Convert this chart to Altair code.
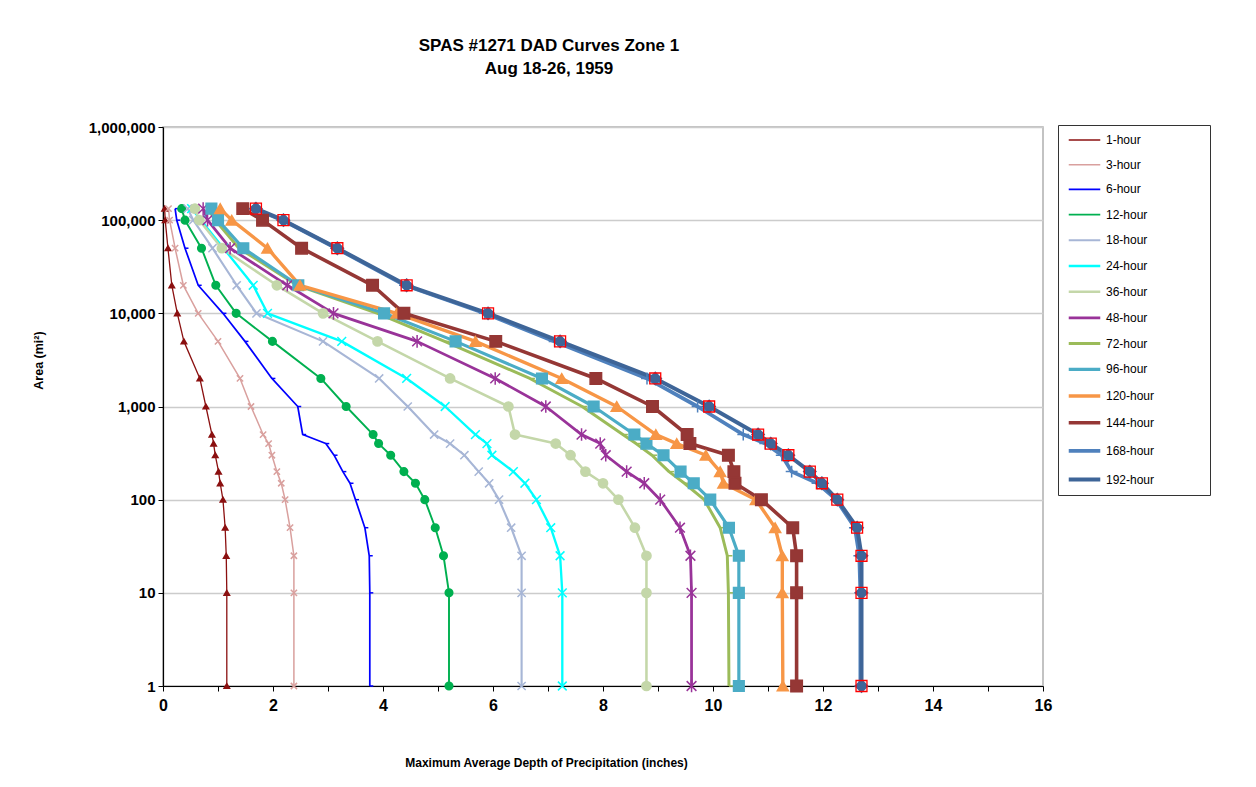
import altair as alt
import pandas as pd

# Area sizes (sq. mi.) shared by all curves
areas = [1, 10, 25, 50, 100, 150, 200, 300, 400, 500, 1000, 2000, 5000,
         10000, 20000, 50000, 100000, 133000]

# Maximum average depth (inches) per duration, one value per area above
d_1h = [1.16, 1.16, 1.15, 1.13, 1.09, 1.04, 1.01, 0.95, 0.92, 0.89, 0.78, 0.67, 0.38, 0.26, 0.16, 0.09, 0.04, 0.03]
d_3h = [2.38, 2.38, 2.38, 2.31, 2.22, 2.15, 2.07, 1.98, 1.92, 1.82, 1.60, 1.40, 1.00, 0.64, 0.37, 0.22, 0.12, 0.10]
d_6h = [3.76, 3.76, 3.75, 3.67, 3.50, 3.40, 3.27, 3.11, 2.96, 2.54, 2.45, 1.98, 1.49, 1.09, 0.64, 0.40, 0.25, 0.22]
d_12h = [5.20, 5.20, 5.10, 4.95, 4.76, 4.59, 4.38, 4.14, 3.92, 3.82, 3.33, 2.87, 1.99, 1.33, 0.96, 0.70, 0.40, 0.34]
d_18h = [6.52, 6.52, 6.52, 6.33, 6.11, 5.93, 5.74, 5.48, 5.22, 4.93, 4.45, 3.93, 2.91, 1.70, 1.34, 0.90, 0.55, 0.45]
d_24h = [7.26, 7.26, 7.22, 7.05, 6.79, 6.58, 6.37, 5.98, 5.89, 5.68, 5.13, 4.43, 3.25, 1.90, 1.64, 1.10, 0.69, 0.52]
d_36h = [8.79, 8.79, 8.79, 8.58, 8.28, 8.00, 7.68, 7.41, 7.14, 6.40, 6.28, 5.22, 3.90, 2.91, 2.07, 1.07, 0.66, 0.58]
d_48h = [9.61, 9.61, 9.59, 9.40, 9.04, 8.75, 8.43, 8.05, 7.95, 7.61, 6.96, 6.04, 4.62, 3.10, 2.26, 1.22, 0.81, 0.73]
d_72h = [10.29, 10.28, 10.26, 10.13, 9.84, 9.48, 9.20, 8.89, 8.60, 8.36, 7.62, 6.67, 5.12, 3.90, 2.44, 1.38, 0.95, 0.82]
d_96h = [10.47, 10.47, 10.47, 10.29, 9.95, 9.65, 9.41, 9.10, 8.79, 8.57, 7.83, 6.89, 5.32, 4.02, 2.46, 1.46, 1.00, 0.88]
d_120h = [11.27, 11.26, 11.26, 11.13, 10.78, 10.19, 10.13, 9.87, 9.34, 8.96, 8.25, 7.25, 5.68, 4.25, 2.49, 1.90, 1.25, 1.04]
d_144h = [11.52, 11.52, 11.52, 11.45, 10.88, 10.40, 10.38, 10.28, 9.58, 9.53, 8.90, 7.87, 6.05, 4.38, 3.81, 2.52, 1.81, 1.45]
d_168h = [12.68, 12.68, 12.66, 12.58, 12.24, 11.90, 11.43, 11.25, 10.95, 10.55, 9.72, 8.80, 7.12, 5.85, 4.40, 3.15, 2.17, 1.67]
d_192h = [12.70, 12.70, 12.70, 12.62, 12.26, 11.98, 11.76, 11.37, 11.05, 10.82, 9.93, 8.95, 7.22, 5.91, 4.43, 3.17, 2.19, 1.69]

series_names = ["1-hour", "3-hour", "6-hour", "12-hour", "18-hour", "24-hour", "36-hour",
                "48-hour", "72-hour", "96-hour", "120-hour", "144-hour", "168-hour", "192-hour"]
series_depths = [d_1h, d_3h, d_6h, d_12h, d_18h, d_24h, d_36h, d_48h, d_72h, d_96h,
                 d_120h, d_144h, d_168h, d_192h]

colors = ["#8B1010", "#D9A09E", "#0000FF", "#00B050", "#A7B6D6", "#00FFFF", "#C4D7A9",
          "#993399", "#9BBB59", "#4BACC6", "#F79646", "#953735", "#4F81BD", "#3E6598"]
line_widths = [1.3, 4, 1.2, 1.2, 4, 1.2, 4, 1.2, 3, 3.5, 3.5, 3, 3, 4.5]

X_SHAPE = "M-1,-1L1,1M-1,1L1,-1"
AST_SHAPE = "M-1,-1L1,1M-1,1L1,-1M0,-1.3L0,1.3"
PLUS_SHAPE = "M-1,0L1,0M0,-1L0,1"
DASH_SHAPE = "M0,0L1,0"
shapes = ["triangle-up", X_SHAPE, DASH_SHAPE, "circle", X_SHAPE, X_SHAPE, "circle",
          AST_SHAPE, DASH_SHAPE, "square", "triangle-up", "square", PLUS_SHAPE, "diamond"]
fills = ["#8B1010", "transparent", "transparent", "#00B050", "transparent", "transparent",
         "#C4D7A9", "transparent", "transparent", "#4BACC6", "#F79646", "#953735",
         "transparent", "#3E6598"]
sizes = [30, 150, 90, 22, 180, 100, 95, 100, 120, 115, 140, 115, 80, 60]

marker_keys = [f"m{i:02d}" for i in range(len(series_names))]

rows = []
for name, key, depths in zip(series_names, marker_keys, series_depths):
    for a, d in zip(areas, depths):
        rows.append({"series": name, "mk": key, "area": a, "depth": d})
df = pd.DataFrame(rows)

FONT = "Liberation Sans"

x_enc = alt.X("depth:Q",
              scale=alt.Scale(domain=[0, 16], nice=False),
              axis=alt.Axis(values=list(range(0, 17)),
                            labelExpr="datum.value % 2 == 0 ? datum.label : ''",
                            title="Maximum Average Depth of Precipitation (inches)",
                            grid=False, labelFontSize=16, labelFontWeight="bold",
                            labelPadding=6, tickSize=5, labelFlush=False,
                            titleFontSize=12, titleFontWeight="bold",
                            titleX=383, titleY=76, titleBaseline="middle"))
y_enc = alt.Y("area:Q",
              scale=alt.Scale(type="log", domain=[1, 1000000], nice=False),
              axis=alt.Axis(values=[1, 10, 100, 1000, 10000, 100000, 1000000],
                            format=",", title="Area (mi²)",
                            grid=True, gridColor="#cccccc", gridWidth=1.5,
                            labelFontSize=15, labelFontWeight="bold", labelPadding=3,
                            tickSize=5, labelFlush=False,
                            titleFontSize=12.5, titleFontWeight="bold",
                            titleX=-125, titleY=233, titleBaseline="middle"))

stroke_scale = alt.Scale(domain=series_names, range=colors)
# invisible spacer title that widens the legend box to the reference width
spacer = "M" * 30

lines = alt.Chart(df).mark_line(strokeJoin="round").encode(
    x=x_enc, y=y_enc,
    stroke=alt.Stroke("series:N", scale=stroke_scale,
                      legend=alt.Legend(title=spacer, titleOrient="bottom", titleFontSize=6,
                                        titleColor="transparent", titlePadding=0,
                                        orient="none", legendX=895, legendY=-2,
                                        symbolType="M-1.2,0H1.2", symbolSize=690,
                                        labelFontSize=12, labelFont=FONT,
                                        strokeColor="#333333", padding=1,
                                        symbolOffset=10, rowPadding=4.7, labelOffset=6)),
    strokeWidth=alt.StrokeWidth("series:N",
                                scale=alt.Scale(domain=series_names, range=line_widths),
                                legend=None),
    order=alt.Order("area:Q"),
    detail="series:N",
)

points = alt.Chart(df).mark_point(opacity=1, strokeWidth=1.5).encode(
    x=x_enc, y=y_enc,
    stroke=alt.Stroke("series:N", scale=stroke_scale, legend=None),
    fill=alt.Fill("mk:N", scale=alt.Scale(domain=marker_keys, range=fills), legend=None),
    shape=alt.Shape("mk:N", scale=alt.Scale(domain=marker_keys, range=shapes), legend=None),
    size=alt.Size("mk:N", scale=alt.Scale(domain=marker_keys, range=sizes), legend=None),
)

red_boxes = alt.Chart(df).transform_filter(
    alt.datum.series == "192-hour"
).mark_point(shape="square", filled=False, stroke="#FF0000", strokeWidth=1.3,
             size=120, opacity=1).encode(x=x_enc, y=y_enc)

chart = alt.layer(lines, points, red_boxes).properties(
    width=880, height=559,
    title=alt.TitleParams(text=["SPAS #1271 DAD Curves Zone 1", "Aug 18-26, 1959"],
                          fontSize=17, fontWeight="bold", font=FONT, anchor="middle",
                          frame="group", dx=-54, offset=42, lineHeight=23),
    autosize=alt.AutoSizeParams(type="none"),
    padding={"left": 155, "top": 119, "right": 200, "bottom": 100},
).configure(font=FONT).configure_axis(
    labelFont=FONT, titleFont=FONT, domainColor="#000000", tickColor="#000000",
    labelColor="#000000", titleColor="#000000", domainWidth=1.2
).configure_view(stroke="#b0b0b0", strokeWidth=1.5)

chart.save("out.html", embed_options={"renderer": "svg", "actions": False})
